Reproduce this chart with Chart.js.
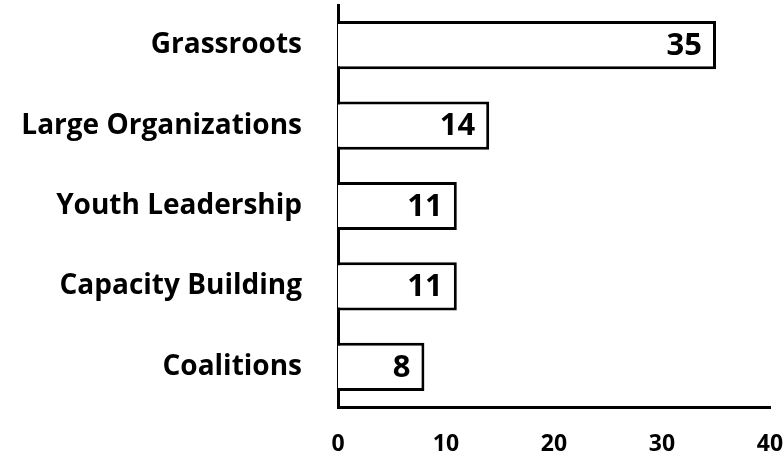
<!DOCTYPE html>
<html>
<head>
<meta charset="utf-8">
<script src="https://cdn.jsdelivr.net/npm/chart.js@4/dist/chart.umd.min.js"></script>
<style>
  html, body { margin: 0; padding: 0; background: #fff; }
  #wrap { width: 784px; height: 454px; position: relative; }
</style>
</head>
<body>
<div id="wrap"><canvas id="c"></canvas></div>
<script>
const categories = ["Grassroots", "Large Organizations", "Youth Leadership", "Capacity Building", "Coalitions"];
const counts = [35, 14, 11, 11, 8];
const xTicks = [0, 10, 20, 30, 40];

const FONT = "'Open Sans', sans-serif";

const valueLabels = {
  id: 'valueLabels',
  afterDatasetsDraw(chart) {
    const ctx = chart.ctx;
    const meta = chart.getDatasetMeta(0);
    ctx.save();
    ctx.font = "bold 31px " + FONT;
    ctx.fillStyle = '#000';
    ctx.textAlign = 'right';
    ctx.textBaseline = 'middle';
    meta.data.forEach((el, i) => {
      ctx.fillText(String(counts[i]), el.x - 14, el.y + 1);
    });
    ctx.restore();
  }
};

new Chart(document.getElementById('c'), {
  type: 'bar',
  data: {
    labels: categories,
    datasets: [{
      data: counts,
      backgroundColor: '#ffffff',
      borderColor: '#000000',
      borderWidth: 3,
      categoryPercentage: 1.0,
      barPercentage: 0.6
    }]
  },
  options: {
    indexAxis: 'y',
    responsive: true,
    maintainAspectRatio: false,
    animation: false,
    layout: { padding: { top: 5, right: 14, left: 0, bottom: 0 } },
    plugins: { legend: { display: false }, tooltip: { enabled: false } },
    scales: {
      x: {
        min: 0, max: 40,
        afterBuildTicks(scale) { scale.ticks = xTicks.map(v => ({ value: v })); },
        afterFit(scale) { scale.height = 47; scale.paddingLeft = 0; scale.paddingRight = 0; },
        grid: { display: false, drawTicks: false },
        border: { display: true, color: '#000', width: 3 },
        ticks: {
          padding: 24,
          color: '#000',
          font: { family: FONT, size: 23, weight: 'bold' },
          maxRotation: 0
        }
      },
      y: {
        afterFit(scale) { scale.width = 338; scale.paddingTop = 0; scale.paddingBottom = 0; },
        grid: { display: false, drawTicks: false },
        border: { display: true, color: '#000', width: 3 },
        ticks: {
          padding: 36,
          color: '#000',
          font: { family: FONT, size: 28, weight: 'bold' }
        }
      }
    }
  },
  plugins: [valueLabels]
});
</script>
</body>
</html>
